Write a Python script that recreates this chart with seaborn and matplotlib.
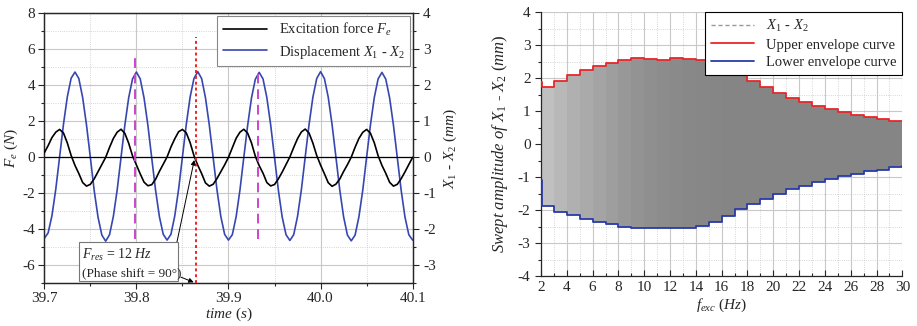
import numpy as np
import pandas as pd
import seaborn as sns
import matplotlib
matplotlib.use("Agg")
import matplotlib.pyplot as plt
from matplotlib.ticker import MultipleLocator

# ---- left panel: time signals (sampled every 1/240 s from 39.7 s) ----
t_start = 39.7
t_step = 1.0 / 240
force = [0.25, 0.65, 1.10, 1.40,
         1.55, 1.35, 0.80, 0.10, -0.45, -0.90, -1.40, -1.60, -1.50, -1.20, -0.80, -0.40, 0.00, 0.55, 1.05, 1.40,
         1.56, 1.33, 0.78, 0.08, -0.42, -0.92, -1.38, -1.58, -1.52, -1.22, -0.78, -0.38, 0.02, 0.57, 1.03, 1.42,
         1.55, 1.36, 0.82, 0.10, -0.44, -0.90, -1.42, -1.60, -1.50, -1.18, -0.80, -0.42, 0.00, 0.53, 1.06, 1.40,
         1.56, 1.34, 0.80, 0.06, -0.46, -0.88, -1.40, -1.59, -1.51, -1.20, -0.82, -0.40, 0.02, 0.55, 1.04, 1.41,
         1.57, 1.35, 0.79, 0.10, -0.43, -0.91, -1.41, -1.61, -1.49, -1.21, -0.79, -0.41, 0.01, 0.56, 1.05, 1.39,
         1.55, 1.34, 0.81, 0.09, -0.45, -0.89, -1.39, -1.60, -1.50, -1.19, -0.81, -0.40, 0.00]
disp = [-2.25, -2.10, -1.62, -0.88, 0.02, 0.92, 1.68, 2.20, 2.37, 2.19, 1.66, 0.90, 0.00, -0.92, -1.66, -2.16,
        -2.33, -2.15, -1.64, -0.90, 0.00, 0.90, 1.66, 2.18, 2.37, 2.18, 1.65, 0.89, -0.02, -0.91, -1.65, -2.14,
        -2.30, -2.14, -1.63, -0.89, 0.01, 0.91, 1.67, 2.19, 2.38, 2.19, 1.66, 0.90, 0.00, -0.90, -1.64, -2.14,
        -2.30, -2.15, -1.65, -0.90, 0.00, 0.89, 1.65, 2.17, 2.36, 2.18, 1.66, 0.90, 0.00, -0.91, -1.66, -2.15,
        -2.31, -2.15, -1.64, -0.90, 0.01, 0.91, 1.67, 2.19, 2.38, 2.19, 1.67, 0.91, 0.01, -0.90, -1.65, -2.16,
        -2.32, -2.16, -1.65, -0.91, 0.00, 0.90, 1.66, 2.18, 2.36, 2.17, 1.65, 0.89, -0.01, -0.91, -1.66, -2.15,
        -2.30]
time = t_start + t_step * np.arange(len(force))

# marker lines
magenta_t = [39.798, 39.932]
magenta_top = [5.55, 4.75]
magenta_bot = [-4.55, -4.55]
red_t = 39.865

# ---- right panel: swept amplitude envelopes (step changes every 1 Hz) ----
f_exc = [2.0, 2.1, 3.0, 4.0, 5.0, 6.0, 7.0, 8.0, 9.0, 10.0, 11.0, 12.0, 13.0, 14.0, 15.0,
         16.0, 17.0, 18.0, 19.0, 20.0, 21.0, 22.0, 23.0, 24.0, 25.0, 26.0, 27.0, 28.0, 29.0, 30.0]
upper = [1.88, 1.72, 1.92, 2.08, 2.25, 2.37, 2.45, 2.55, 2.60, 2.57, 2.56, 2.60, 2.58, 2.56, 2.40,
         2.26, 2.08, 1.90, 1.72, 1.55, 1.40, 1.27, 1.15, 1.06, 0.97, 0.89, 0.82, 0.76, 0.70, 0.70]
lower = [-1.10, -1.88, -2.05, -2.15, -2.27, -2.36, -2.42, -2.50, -2.55, -2.53, -2.53, -2.55, -2.54, -2.48, -2.35,
         -2.18, -1.98, -1.82, -1.67, -1.52, -1.37, -1.26, -1.16, -1.07, -0.98, -0.90, -0.82, -0.77, -0.70, -0.65]
band_gray = ["#c4c4c4", "#c0c0c0", "#b8b8b8", "#b0b0b0", "#aaaaaa", "#a4a4a4", "#9e9e9e", "#989898",
             "#939393", "#8f8f8f", "#8c8c8c", "#8a8a8a", "#888888", "#878787", "#868686", "#858585",
             "#858585", "#858585", "#858585", "#858585", "#858585", "#858585", "#858585", "#858585",
             "#858585", "#858585", "#858585", "#858585", "#858585"]

sns.set_style("ticks")
plt.rcParams["font.family"] = ["Liberation Serif", "DejaVu Serif"]
plt.rcParams["mathtext.fontset"] = "custom"
plt.rcParams["mathtext.rm"] = "Liberation Serif"
plt.rcParams["mathtext.it"] = "Liberation Serif:italic"
plt.rcParams["axes.unicode_minus"] = False
plt.rcParams["font.size"] = 10

fig = plt.figure(figsize=(9.17, 3.26), dpi=100)
ax1 = fig.add_axes([0.0483, 0.131, 0.4017, 0.828])
ax2 = fig.add_axes([0.590, 0.153, 0.394, 0.810])

# ---------------- left panel ----------------
df_sig = pd.DataFrame({"time": time, "force": force, "disp": disp})
axr = ax1.twinx()
ax1.set_zorder(axr.get_zorder() + 1)
ax1.patch.set_visible(False)

grid_col = "#c8c8c8"
ax1.set_xlim(39.7, 40.1)
ax1.set_ylim(-7, 8)
axr.set_ylim(-3.5, 4)
ax1.xaxis.set_major_locator(MultipleLocator(0.1))
ax1.xaxis.set_minor_locator(MultipleLocator(0.05))
ax1.yaxis.set_major_locator(MultipleLocator(2))
ax1.yaxis.set_minor_locator(MultipleLocator(1))
axr.yaxis.set_major_locator(MultipleLocator(1))
axr.yaxis.set_minor_locator(MultipleLocator(0.5))
ax1.xaxis.set_major_formatter(matplotlib.ticker.FormatStrFormatter("%.1f"))
axr.grid(which="major", color=grid_col, lw=0.8)
axr.grid(which="minor", color=grid_col, lw=0.6, ls=":")
axr.set_axisbelow(True)
for v in [39.8, 39.9, 40.0]:
    axr.axvline(v, color=grid_col, lw=0.8, zorder=0)
for v in [39.75, 39.85, 39.95, 40.05]:
    axr.axvline(v, color=grid_col, lw=0.6, ls=":", zorder=0)

sns.lineplot(data=df_sig, x="time", y="disp", ax=axr, color="#3747b0", lw=1.2, zorder=2)
axr.set_ylabel("")
axr.set_xlabel("")
ax1.axhline(0, color="black", lw=0.9, zorder=1)
sns.lineplot(data=df_sig, x="time", y="force", ax=ax1, color="black", lw=1.2, zorder=3,
             label="Excitation force $F_e$")
ax1.plot([], [], color="#3747b0", lw=1.2, label="Displacement $X_1$ - $X_2$")

for tx, top, bot in zip(magenta_t, magenta_top, magenta_bot):
    ax1.plot([tx, tx], [bot, top], color="#cc44cc", lw=1.4, ls=(0, (5, 3)), zorder=4)
ax1.plot([red_t, red_t], [-7, 6.7], color="#ee2222", lw=1.4, ls=(0, (1.5, 1.5)), zorder=4)

ax1.annotate("", xy=(red_t - 0.0015, 0.0), xytext=(39.843, -4.96),
             arrowprops=dict(arrowstyle="-|>", color="black", lw=0.7, mutation_scale=7), zorder=5)
ax1.annotate("", xy=(red_t, -7.0), xytext=(39.8455, -6.6),
             arrowprops=dict(arrowstyle="-|>", color="black", lw=0.7, mutation_scale=7), zorder=5)
ax1.text(39.741, -5.4, "$F_{res}$ = $12$ $Hz$", fontsize=10, va="center", ha="left", zorder=6)
ax1.text(39.741, -6.45, "(Phase shift = 90°)", fontsize=9.5, va="center", ha="left", zorder=6)
ax1.add_patch(plt.Rectangle((39.7378, -6.85), 0.1075, 2.15, facecolor="white", edgecolor="#777777",
                            lw=0.8, zorder=5))

leg = ax1.legend(loc="upper right", borderaxespad=0.15, fancybox=False, framealpha=1,
                 edgecolor="#888888", fontsize=10.5, handlelength=3.0, labelspacing=0.35)
leg.get_frame().set_linewidth(0.8)
leg.set_zorder(10)

ax1.set_xlabel("$time$ $(s)$", fontsize=11, labelpad=0)
ax1.set_ylabel("$F_e$ $(N)$", fontsize=11)
ax1.yaxis.set_label_coords(-0.066, 0.5)
axr.set_ylabel("$X_1$ - $X_2$ $(mm)$", fontsize=11, labelpad=4)
ax1.tick_params(axis="both", which="major", direction="out", length=4, width=0.8, labelsize=11, pad=2.5)
ax1.tick_params(axis="both", which="minor", direction="out", length=2.5, width=0.8)
axr.tick_params(axis="y", which="major", direction="out", length=4, width=0.8, labelsize=11)
axr.tick_params(axis="y", which="minor", direction="out", length=2.5, width=0.8)
for sp in list(ax1.spines.values()) + list(axr.spines.values()):
    sp.set_linewidth(0.9)

# ---------------- right panel ----------------
df_env = pd.DataFrame({"f": f_exc, "upper": upper, "lower": lower})
ax2.set_xlim(2, 30)
ax2.set_ylim(-4, 4)
ax2.xaxis.set_major_locator(MultipleLocator(2))
ax2.xaxis.set_minor_locator(MultipleLocator(1))
ax2.yaxis.set_major_locator(MultipleLocator(1))
ax2.yaxis.set_minor_locator(MultipleLocator(0.5))
ax2.grid(which="major", color=grid_col, lw=0.8)
ax2.grid(which="minor", color=grid_col, lw=0.6, ls=":")
ax2.set_axisbelow(True)

for i in range(len(f_exc) - 1):
    ax2.fill_between(f_exc[i:i + 2], lower[i], upper[i], color=band_gray[i], lw=0, zorder=2)

sns.lineplot(data=df_env, x="f", y="upper", ax=ax2, color="#e8262a", lw=1.3, drawstyle="steps-post",
             zorder=3)
sns.lineplot(data=df_env, x="f", y="lower", ax=ax2, color="#2a3aa8", lw=1.3, drawstyle="steps-post",
             zorder=3)
h_sig, = ax2.plot([], [], color="#999999", lw=1.0, ls=(0, (3, 2)))
h_up, = ax2.plot([], [], color="#e8262a", lw=1.3)
h_lo, = ax2.plot([], [], color="#2a3aa8", lw=1.3)
leg2 = ax2.legend([h_sig, h_up, h_lo], ["$X_1$ - $X_2$", "Upper envelope curve", "Lower envelope curve"],
                  loc="upper right", borderaxespad=0, fancybox=False, framealpha=1, edgecolor="black",
                  fontsize=10.5, handlelength=3.0, labelspacing=0.3)
leg2.get_frame().set_linewidth(0.8)

ax2.set_xlabel("$f_{exc}$ $(Hz)$", fontsize=11, labelpad=2)
ax2.set_ylabel("$Swept$ $amplitude$ $of$ $X_1$ - $X_2$ $(mm)$", fontsize=12, labelpad=6)
ax2.tick_params(axis="x", which="major", direction="in", length=4, width=0.8, labelsize=11)
ax2.tick_params(axis="x", which="minor", direction="in", length=2.5, width=0.8)
ax2.tick_params(axis="y", which="major", direction="out", length=4, width=0.8, labelsize=11)
ax2.tick_params(axis="y", which="minor", direction="out", length=2.5, width=0.8)
ax2.spines["top"].set_visible(False)
ax2.spines["right"].set_visible(False)
ax2.spines["left"].set_linewidth(0.9)
ax2.spines["bottom"].set_linewidth(0.9)

fig.savefig("out.png", dpi=100)
